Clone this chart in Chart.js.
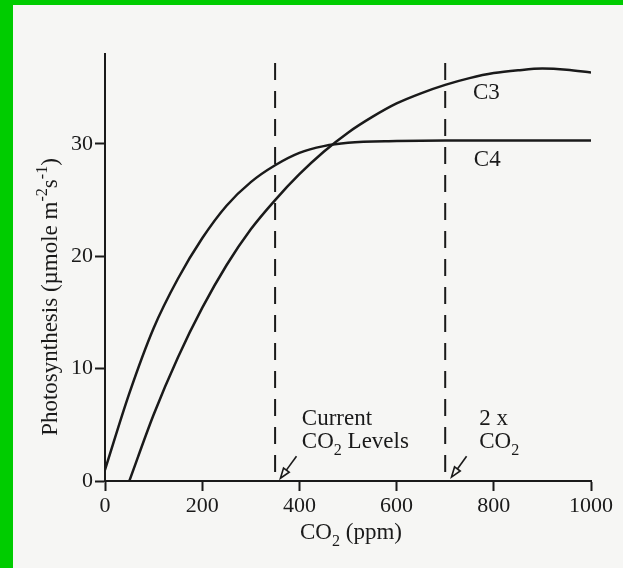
<!DOCTYPE html>
<html>
<head>
<meta charset="utf-8">
<script src="https://cdn.jsdelivr.net/npm/chart.js@4.4.1/dist/chart.umd.min.js"></script>
<style>
  html, body { margin: 0; padding: 0; }
  body { width: 623px; height: 568px; background: #f6f6f4; overflow: hidden; position: relative; }
  .frame-top { position: absolute; left: 0; top: 0; width: 623px; height: 5px; background: #00cc00; }
  .frame-left { position: absolute; left: 0; top: 0; width: 13px; height: 568px; background: #00cc00; }
  #chart { position: absolute; left: 13px; top: 5px; }
</style>
</head>
<body>
<div class="frame-top"></div>
<div class="frame-left"></div>
<canvas id="chart" width="610" height="563"></canvas>
<script>
// Данные кривых (CO2, ppm -> фотосинтез)
const c3X = [50, 100, 150, 200, 250, 300, 350, 400, 450, 500, 550, 600, 650, 700, 750, 800, 850, 900, 950, 1000];
const c3Y = [0, 5.9, 11.0, 15.4, 19.2, 22.4, 25.0, 27.3, 29.3, 31.0, 32.4, 33.6, 34.5, 35.25, 35.85, 36.3, 36.55, 36.7, 36.6, 36.35];
const c4X = [0, 50, 100, 150, 200, 250, 300, 350, 400, 450, 500, 600, 700, 800, 900, 1000];
const c4Y = [1.0, 7.8, 13.6, 18.0, 21.6, 24.5, 26.6, 28.1, 29.2, 29.8, 30.1, 30.25, 30.3, 30.3, 30.3, 30.3];

const xTicks = [0, 200, 400, 600, 800, 1000];
const yTicks = [0, 10, 20, 30];

const currentCO2 = 350;
const doubleCO2 = 700;
const dashTop = 37.2;

const ink = '#1a1a1a';
const serif = '"Liberation Serif", "Times New Roman", serif';

function toPoints(xs, ys) {
  return xs.map((x, i) => ({ x, y: ys[i] }));
}

// Текст с нижними/верхними индексами
function richWidth(ctx, parts, size) {
  let w = 0;
  parts.forEach(([t, mode]) => {
    ctx.font = (mode ? size * 0.7 : size) + 'px ' + serif;
    w += ctx.measureText(t).width;
  });
  return w;
}

function drawRich(ctx, parts, x, y, size) {
  let cx = x;
  parts.forEach(([t, mode]) => {
    ctx.font = (mode ? size * 0.7 : size) + 'px ' + serif;
    const dy = mode === 'sub' ? size * 0.3 : mode === 'sup' ? -size * 0.42 : 0;
    ctx.fillText(t, cx, y + dy);
    cx += ctx.measureText(t).width;
  });
}

function drawArrow(ctx, x1, y1, x2, y2) {
  const ang = Math.atan2(y2 - y1, x2 - x1);
  const len = 10, half = 3.5;
  const bx = x2 - len * Math.cos(ang), by = y2 - len * Math.sin(ang);
  const nx = -Math.sin(ang) * half, ny = Math.cos(ang) * half;
  ctx.beginPath();
  ctx.moveTo(x1, y1);
  ctx.lineTo(bx, by);
  ctx.stroke();
  ctx.beginPath();
  ctx.moveTo(x2, y2);
  ctx.lineTo(bx + nx, by + ny);
  ctx.lineTo(bx - nx, by - ny);
  ctx.closePath();
  ctx.stroke();
}

// Подписи, стрелки и заголовки осей
const annotations = {
  id: 'annotations',
  afterDraw(chart) {
    const { ctx, scales: { x, y } } = chart;
    ctx.save();
    ctx.fillStyle = ink;
    ctx.strokeStyle = ink;
    ctx.lineWidth = 1.6;
    ctx.textBaseline = 'alphabetic';
    ctx.textAlign = 'left';

    const px = v => x.getPixelForValue(v);
    const py = v => y.getPixelForValue(v);

    drawRich(ctx, [['C3', '']], px(757), py(33.96), 23);
    drawRich(ctx, [['C4', '']], px(759), py(28.0), 23);

    drawRich(ctx, [['Current', '']], px(405), py(4.96), 23);
    drawRich(ctx, [['CO', ''], ['2', 'sub'], [' Levels', '']], px(405), py(2.9), 23);
    drawRich(ctx, [['2 x', '']], px(770), py(4.96), 23);
    drawRich(ctx, [['CO', ''], ['2', 'sub']], px(770), py(2.9), 23);

    drawArrow(ctx, px(394), py(2.2), px(361), py(0.25));
    drawArrow(ctx, px(744), py(2.2), px(713), py(0.35));

    // подпись оси X
    const xt = [['CO', ''], ['2', 'sub'], [' (ppm)', '']];
    const xw = richWidth(ctx, xt, 23);
    drawRich(ctx, xt, (x.left + x.right) / 2 - xw / 2 + 3, 534, 23);

    // подпись оси Y
    const yt = [['Photosynthesis (\u00b5mole m', ''], ['-2', 'sup'], ['s', ''], ['-1', 'sup'], [')', '']];
    const yw = richWidth(ctx, yt, 23);
    ctx.translate(44, 292);
    ctx.rotate(-Math.PI / 2);
    drawRich(ctx, yt, -yw / 2, 0, 23);
    ctx.restore();
  }
};

const axisCommon = {
  border: { display: true, color: ink, width: 2 },
  grid: { drawOnChartArea: false, drawTicks: true, tickLength: 10, tickWidth: 2, tickColor: ink, color: ink },
  title: { display: false }
};

new Chart(document.getElementById('chart'), {
  type: 'line',
  data: {
    datasets: [
      {
        label: 'C3',
        data: toPoints(c3X, c3Y),
        borderColor: ink,
        borderWidth: 2.5,
        pointRadius: 0,
        cubicInterpolationMode: 'monotone'
      },
      {
        label: 'C4',
        data: toPoints(c4X, c4Y),
        borderColor: ink,
        borderWidth: 2.5,
        pointRadius: 0,
        cubicInterpolationMode: 'monotone'
      },
      {
        label: 'Current CO2',
        data: [{ x: currentCO2, y: dashTop }, { x: currentCO2, y: 0 }],
        borderColor: ink,
        borderWidth: 2,
        borderDash: [17, 11],
        pointRadius: 0,
        clip: false
      },
      {
        label: '2 x CO2',
        data: [{ x: doubleCO2, y: dashTop }, { x: doubleCO2, y: 0 }],
        borderColor: ink,
        borderWidth: 2,
        borderDash: [17, 11],
        pointRadius: 0,
        clip: false
      }
    ]
  },
  options: {
    responsive: false,
    devicePixelRatio: 1,
    animation: false,
    layout: { padding: { top: 49, right: 32, left: 0, bottom: 0 } },
    plugins: {
      legend: { display: false },
      tooltip: { enabled: false }
    },
    scales: {
      x: {
        ...axisCommon,
        type: 'linear',
        min: 0,
        max: 1000,
        afterBuildTicks: s => { s.ticks = xTicks.map(v => ({ value: v })); },
        afterFit: s => { s.height = 87; },
        ticks: { color: ink, padding: 2, maxRotation: 0, callback: v => String(v), font: { family: serif, size: 22 } }
      },
      y: {
        ...axisCommon,
        type: 'linear',
        min: 0,
        max: 38,
        afterBuildTicks: s => { s.ticks = yTicks.map(v => ({ value: v })); },
        afterFit: s => { s.width = 92; },
        ticks: { color: ink, padding: 2, callback: v => String(v), font: { family: serif, size: 22 } }
      }
    }
  },
  plugins: [annotations]
});
</script>
</body>
</html>
